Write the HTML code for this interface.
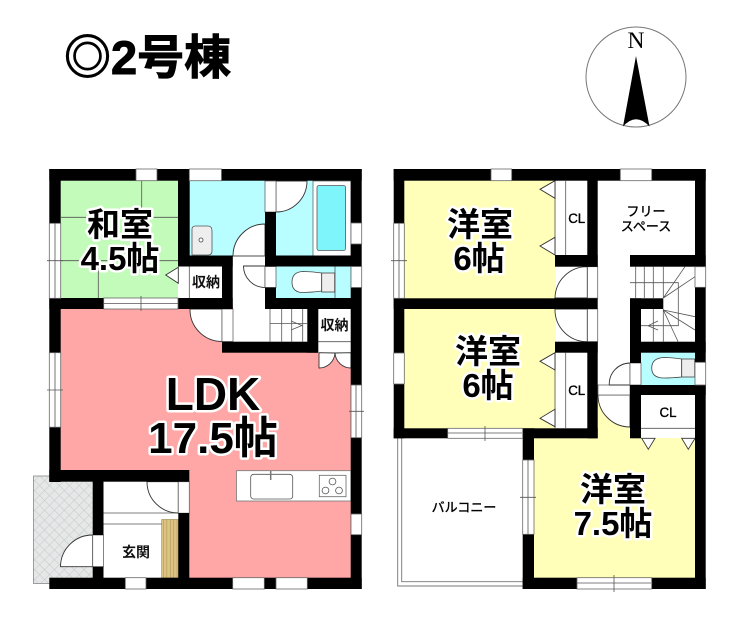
<!DOCTYPE html>
<html lang="ja"><head><meta charset="utf-8"><title>2号棟</title>
<style>
html,body{margin:0;padding:0;background:#fff}
svg{display:block}
text{font-family:"Liberation Sans","Noto Sans CJK JP",sans-serif}
.big{font-weight:700;font-size:33px;fill:#000;stroke:#fff;stroke-width:5px;paint-order:stroke;stroke-linejoin:round;text-anchor:middle}
.sm{font-weight:700;text-anchor:middle;fill:#111}
.md{text-anchor:middle;fill:#000;stroke:#000;stroke-width:.35px}
.l{fill:none;stroke:#555;stroke-width:.8}
.w{fill:#000}
.win{fill:#fff;stroke:#666;stroke-width:.8}
.d{fill:#fff;stroke:#333;stroke-width:.9}
</style></head><body>
<svg width="740" height="620" viewBox="0 0 740 620" xmlns="http://www.w3.org/2000/svg">
<defs><pattern id="h" width="7" height="7" patternUnits="userSpaceOnUse" patternTransform="rotate(45)"><rect width="7" height="7" fill="#e6e8e8"/><path d="M0 0H7M0 0V7" stroke="#c8cccc" stroke-width="1.2"/></pattern>
<pattern id="wd" width="3.4" height="6" patternUnits="userSpaceOnUse"><rect width="3.4" height="6" fill="#dcc383"/><path d="M0 0V6" stroke="#a98f4a" stroke-width="1"/></pattern></defs>

<!-- title -->
<text x="64" y="74" font-size="47" font-weight="700" stroke="#000" stroke-width="1">◎2号棟</text>

<!-- compass -->
<ellipse cx="636" cy="77" rx="50" ry="50" fill="#fff" stroke="#777" stroke-width="1"/>
<text x="636" y="48" font-size="23.5" text-anchor="middle" style="font-family:'Liberation Serif',serif">N</text>
<path d="M636 56L649.5 126.500Q636 112 623 126.500Z" fill="#000"/>

<!-- FIRST FLOOR fills -->
<rect x="33.500" y="476" width="60" height="107.500" fill="url(#h)" stroke="#888" stroke-width=".8"/>
<rect x="60" y="305" width="292" height="170" fill="#ffa6a6"/>
<rect x="189" y="470" width="163" height="109" fill="#ffa6a6"/>
<rect x="60" y="180" width="119" height="120" fill="#c3fbba"/>
<rect x="189" y="180" width="77" height="76" fill="#b8fdff"/>
<rect x="276" y="180" width="76" height="76" fill="#b8fdff"/>
<rect x="276" y="266" width="76" height="33" fill="#b8fdff"/>
<rect x="233" y="256" width="33" height="86" fill="#fff"/>
<rect x="265" y="298" width="43" height="44" fill="#fff"/>
<rect x="178" y="266" width="45" height="33" fill="#fff"/>
<rect x="318" y="309" width="33" height="44" fill="#fff"/>
<rect x="103" y="481" width="76" height="97" fill="#fff"/>

<!-- tatami -->
<path class="l" d="M61 217.300H178M61 260.700H178M141.700 181V217.300M98.300 260.700V298"/>

<!-- wash basin -->
<path d="M192 229Q192 226 196 226H208Q212 226 212 231V251Q212 255 208 255H192Z" fill="#eee" stroke="#555" stroke-width=".8"/>
<circle cx="201" cy="240" r="2" fill="#fff" stroke="#444" stroke-width=".8"/>

<!-- doors floor 1 -->
<path class="d" d="M233 256A32 32 0 0 1 265 224V256Z"/>
<path class="d" d="M276 212A31 31 0 0 0 307 181H276Z"/>
<rect x="265" y="181" width="11" height="31" class="win"/>
<path class="d" d="M243.500 266A21.500 21.500 0 0 0 265 287.500V266Z"/>
<rect x="265" y="266.500" width="11" height="21" class="win"/>
<path class="d" d="M190 309A32 32 0 0 0 222 341.500V309Z"/>
<rect x="222" y="309" width="11" height="32.500" class="win"/>
<path class="d" d="M178.300 267.300L165.700 275L178.300 283.300Z"/>
<path class="l" d="M189.300 266V298M233 256H265"/>

<!-- bath -->
<rect x="313" y="181" width="38" height="75" fill="#fff" stroke="#666" stroke-width=".8"/>
<rect x="317" y="185.500" width="28.500" height="65" rx="2" fill="#7ef4fb" stroke="#555" stroke-width=".8"/>

<!-- toilet 1F -->
<path d="M335 266V298" class="l"/>
<path d="M321.700 273Q312 271.500 303 271.500Q292 272 292 282Q292 292.500 303 292.500Q312 292.500 321.700 291Z" fill="#fff" stroke="#444" stroke-width=".8"/>
<rect x="321.700" y="273" width="13" height="19" fill="#eee" stroke="#444" stroke-width=".8"/>

<!-- stairs 1F -->
<path class="l" d="M270 309V341.500M281.700 309V341.500M291.700 309V341.500M302.700 309V341.500M270 323.500H307M291 321L302 325.500L291 330"/>

<!-- closet 1F -->
<path class="l" d="M318 341.700H351"/>
<path class="d" d="M319 352.700V368A16 16 0 0 0 335 353ZM351 352.700V368A16 16 0 0 1 335 353Z"/>

<!-- entrance -->
<path class="l" d="M103.300 513H178M103.300 524H162"/>
<rect x="161.700" y="519.500" width="16.800" height="58.500" fill="url(#wd)" stroke="#9a8343" stroke-width=".6"/>
<path class="d" d="M147 481.700A31.300 31.300 0 0 0 178.300 513V481.700Z"/>
<rect x="178.300" y="481.700" width="11" height="31.500" class="win"/>
<path class="d" d="M60.500 566.700A32 32 0 0 1 92.700 535V566.700Z" />
<rect x="92.700" y="535" width="10.800" height="31.700" class="win"/>

<!-- kitchen -->
<rect x="236.500" y="470.700" width="114.500" height="30.300" fill="#fff" stroke="#777" stroke-width=".8"/>
<rect x="250.700" y="474.300" width="42" height="24.700" rx="3" fill="#fff" stroke="#555" stroke-width=".8"/>
<path d="M270.700 470.500V480" stroke="#777" stroke-width="1.500"/>
<rect x="319.300" y="475.300" width="26.700" height="21.400" fill="#fff" stroke="#666" stroke-width=".8"/>
<circle cx="332.500" cy="481.500" r="3.400" fill="none" stroke="#555" stroke-width=".8"/>
<circle cx="325.500" cy="490.500" r="3.400" fill="none" stroke="#555" stroke-width=".8"/>
<circle cx="339" cy="490.500" r="3.400" fill="none" stroke="#555" stroke-width=".8"/>

<!-- walls 1F -->
<g class="w">
<rect x="49.300" y="169" width="312.400" height="11.700"/>
<rect x="49.300" y="169" width="11.400" height="54.500"/>
<rect x="49.300" y="298" width="11.400" height="55"/>
<rect x="49.300" y="427" width="11.400" height="55"/>
<rect x="350.700" y="169" width="11" height="420"/>
<rect x="178" y="169" width="11.700" height="97"/>
<rect x="178" y="255.500" width="54.700" height="11"/>
<rect x="265" y="255.500" width="96" height="11"/>
<rect x="265" y="212" width="11" height="54"/>
<rect x="222" y="255.500" width="10.700" height="53.500"/>
<rect x="49.300" y="298" width="183.400" height="11"/>
<rect x="265" y="287.500" width="11" height="21.500"/>
<rect x="265" y="298" width="96" height="11"/>
<rect x="222" y="341.700" width="96" height="11"/>
<rect x="307.300" y="298" width="11" height="54.700"/>
<rect x="49.300" y="470" width="140" height="11.700"/>
<rect x="92.700" y="470" width="10.800" height="65"/>
<rect x="92.700" y="566.700" width="10.800" height="12"/>
<rect x="178.300" y="513" width="11" height="65"/>
<rect x="49.300" y="577.700" width="312.400" height="11.300"/>
</g>
<!-- windows 1F -->
<g class="win">
<rect x="136" y="169" width="21" height="11.700"/>
<rect x="189.300" y="169" width="32.200" height="11.700"/>
<rect x="49.300" y="223.300" width="11.400" height="75"/>
<rect x="351" y="223" width="10.700" height="21"/>
<rect x="351" y="266.500" width="10.700" height="21"/>
<rect x="103.700" y="298" width="74.300" height="11"/>
<rect x="49.300" y="352.700" width="11.400" height="74.500"/>
<rect x="351" y="385" width="10.700" height="52.700"/>
<rect x="351" y="514" width="10.700" height="20.700"/>
<rect x="125.300" y="577.700" width="20.700" height="11.300"/>
<rect x="232.700" y="577.700" width="31.600" height="11.300"/>
<rect x="276" y="577.700" width="31.300" height="11.300"/>
</g>
<path stroke="#555" stroke-width=".8" fill="none" d="M47 260.700H63M47 390H63M349 411.300H364M141 296V311M55 223.300V298M55 352.700V427M356 385V437.700M104 303.500H178"/>

<!-- SECOND FLOOR fills -->
<rect x="404" y="180" width="152" height="119" fill="#ffffb9"/>
<rect x="404" y="309" width="152" height="120" fill="#ffffb9"/>
<rect x="534" y="438" width="162" height="140" fill="#ffffb9"/>
<rect x="597" y="395" width="34" height="44" fill="#ffffb9"/>
<rect x="598" y="181" width="97" height="204" fill="#fff"/>
<rect x="641" y="352" width="54.500" height="33.500" fill="#b8fdff"/>

<!-- closets -->
<path class="l" d="M555 181V255M565.700 181V255M555 352.700V428M565.700 352.700V428M641 428.300H695"/>
<path class="d" d="M555 180.700L540 189.300L555 198.300ZM555 237.300L540 246L555 255ZM555 352.700L540 361.300L555 370ZM555 409.300L540 418.300L555 426.700Z"/>
<path class="d" d="M641.700 438.300L648.300 449.300L655 438.300ZM681.700 438.300L688.300 449.300L695 438.300Z"/>

<!-- doors 2F -->
<path class="d" d="M555 298A32 32 0 0 1 587.300 266.700V298Z"/>
<path class="d" d="M555 309A32 32 0 0 0 587.300 341.700V309Z"/>
<rect x="587.500" y="266.700" width="10.200" height="31.500" class="win"/>
<rect x="587.500" y="309" width="10.200" height="32.700" class="win"/>
<path class="d" d="M598 395A32 32 0 0 0 630 427V395Z"/>
<rect x="598" y="385" width="32" height="10" class="win"/>
<path class="d" d="M609.300 385A21 21 0 0 1 630 363V385Z"/>
<rect x="630" y="363" width="11" height="22" class="win"/>

<!-- stairs 2F -->
<path class="l" d="M635.700 266.700V298M644.300 266.700V298M653.300 266.700V298M663.300 266.700V298M630 282.700H678.300V325.700H641M663.300 298L685 266.700M663.300 298L695 276.700M663.300 310L695 316.700M663.300 310L695 330M663.300 310L678 341.500M653.300 309V341.500M663.300 309V341.500M658 321L648 325.700L658 330"/>

<!-- toilet 2F -->
<path d="M681.700 359Q672 357.500 664 357.500Q651.700 358 651.700 368Q651.700 378 664 378Q672 378 681.700 377Z" fill="#fff" stroke="#444" stroke-width=".8"/>
<rect x="681.700" y="359" width="13" height="18" fill="#eee" stroke="#444" stroke-width=".8"/>

<!-- balcony -->
<path d="M397.700 438V586H522.700M401.700 438V581.700H522.700" fill="none" stroke="#777" stroke-width=".9"/>

<!-- walls 2F -->
<g class="w">
<rect x="393.700" y="169" width="312" height="11.700"/>
<rect x="393.700" y="169" width="10.600" height="54.500"/>
<rect x="393.700" y="298.300" width="10.600" height="54.700"/>
<rect x="393.700" y="384" width="10.600" height="54.300"/>
<rect x="695" y="169" width="10.700" height="97.700"/>
<rect x="695" y="287.300" width="10.700" height="75"/>
<rect x="695" y="385" width="10.700" height="204"/>
<rect x="393.700" y="298.300" width="204" height="10.700"/>
<rect x="587.300" y="169" width="10.400" height="97.700"/>
<rect x="555" y="255" width="42.700" height="11.700"/>
<rect x="630" y="255" width="75.700" height="11.700"/>
<rect x="630" y="298.300" width="33.300" height="10.700"/>
<rect x="630" y="298.300" width="11" height="64.700"/>
<rect x="630" y="341.700" width="75.700" height="11"/>
<rect x="555" y="341.700" width="42.700" height="11"/>
<rect x="587.300" y="341.700" width="10.400" height="96.600"/>
<rect x="630" y="385" width="75.700" height="10"/>
<rect x="630" y="385" width="11" height="53.300"/>
<rect x="393.700" y="428.300" width="54" height="10"/>
<rect x="522.700" y="428.300" width="75" height="10"/>
<rect x="522.700" y="428.300" width="11.300" height="32"/>
<rect x="522.700" y="534.300" width="11.300" height="54.700"/>
<rect x="522.700" y="577.700" width="183" height="11.300"/>
</g>
<!-- windows 2F -->
<g class="win">
<rect x="491" y="169" width="20.700" height="11.700"/>
<rect x="620.300" y="169" width="31.400" height="11.700"/>
<rect x="393.700" y="223.300" width="10.600" height="75"/>
<rect x="393.700" y="353" width="10.600" height="31"/>
<rect x="695" y="266.700" width="10.700" height="20.600"/>
<rect x="695" y="362.300" width="10.700" height="22.700"/>
<rect x="447.700" y="428.300" width="75" height="10"/>
<rect x="522.700" y="460" width="11.300" height="74.300"/>
<rect x="577" y="577.700" width="74.700" height="11.300"/>
</g>
<path stroke="#555" stroke-width=".8" fill="none" d="M391 260.700H407M485 426V441M520 497.300H536M614 575V592M399 223.300V298M528 460V534.300M448 433H522M577 583H651"/>

<!-- labels -->
<text class="big" x="120" y="236">和室</text>
<text class="big" x="120" y="270">4.5帖</text>
<text class="big" x="480" y="236">洋室</text>
<text class="big" x="479" y="270">6帖</text>
<text class="big" x="488" y="363">洋室</text>
<text class="big" x="488" y="397">6帖</text>
<text class="big" x="613" y="501">洋室</text>
<text class="big" x="613" y="535">7.5帖</text>
<text class="big" x="213" y="410" style="font-size:46px">LDK</text>
<text class="big" x="213" y="453" style="font-size:44px">17.5帖</text>

<text class="sm" x="206" y="287" font-size="14">収納</text>
<text class="sm" x="334.500" y="330" font-size="14">収納</text>
<text class="sm" x="136" y="557" font-size="14">玄関</text>
<text class="md" x="576.700" y="223" font-size="14" textLength="17" lengthAdjust="spacingAndGlyphs">CL</text>
<text class="md" x="576.700" y="395" font-size="14" textLength="17" lengthAdjust="spacingAndGlyphs">CL</text>
<text class="md" x="668" y="417" font-size="14" textLength="17" lengthAdjust="spacingAndGlyphs">CL</text>
<text class="md" x="646" y="216" font-size="13">フリー</text>
<text class="md" x="646" y="231" font-size="13">スペース</text>
<text class="md" x="464" y="512" font-size="13">バルコニー</text>
</svg>
</body></html>
